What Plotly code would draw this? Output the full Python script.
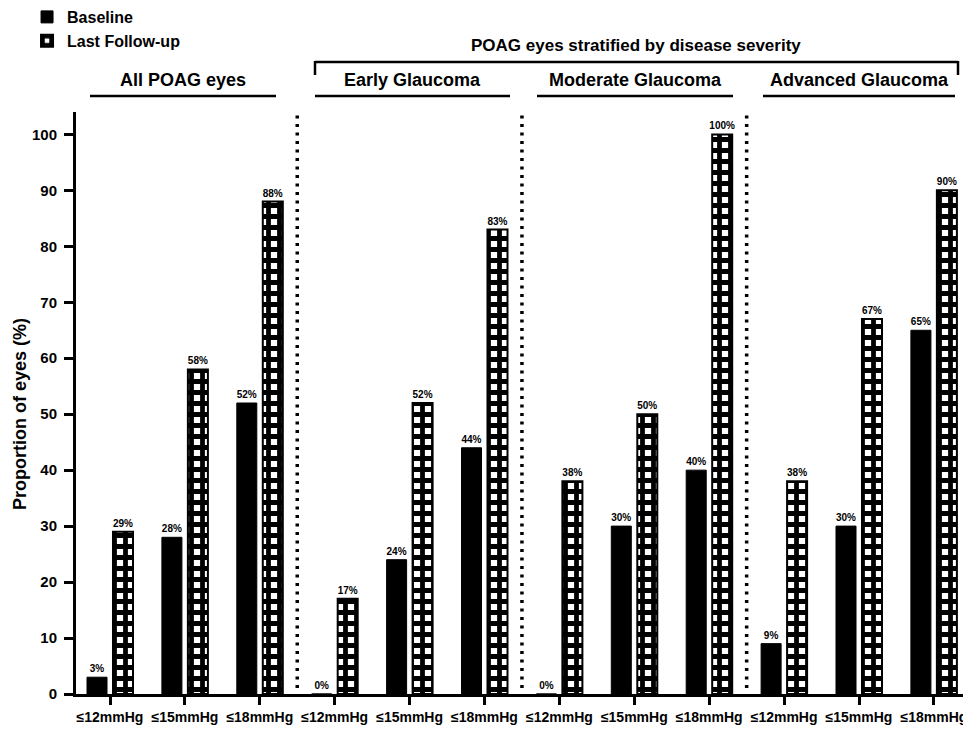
import plotly.graph_objects as go

categories = ["≤12mmHg", "≤15mmHg", "≤18mmHg"] * 4
baseline = [3, 28, 52, 0, 24, 44, 0, 30, 40, 9, 30, 65]
followup = [29, 58, 88, 17, 52, 83, 38, 50, 100, 38, 67, 90]
group_titles = ["All POAG eyes", "Early Glaucoma", "Moderate Glaucoma", "Advanced Glaucoma"]
super_title = "POAG eyes stratified by disease severity"
y_title = "Proportion of eyes (%)"
yticks = list(range(0, 101, 10))

xpos = list(range(len(categories)))
FONT = "Liberation Sans"

PLOT_LEFT, PLOT_W = 76, 887            # screen pixels
PLOT_TOP, PLOT_BOT = 112, 694
def py(ypix):
    return (PLOT_BOT - ypix) / (PLOT_BOT - PLOT_TOP)
def px(xpix):
    return (xpix - PLOT_LEFT) / PLOT_W
X0PIX, XSTEP = 110, 74.9
def dx(xpix):
    return (xpix - X0PIX) / XSTEP

fig = go.Figure()
fig.add_trace(go.Bar(
    x=xpos, y=baseline, name="Baseline",
    marker=dict(color="black", line=dict(color="black", width=1)),
    text=[f"{v}%" for v in baseline], textposition="outside",
    textfont=dict(family=FONT, size=10, color="black", weight="bold"),
    constraintext="none", cliponaxis=False,
))
fig.add_trace(go.Bar(
    x=xpos, y=followup, name="Last Follow-up",
    marker=dict(color="white", line=dict(color="black", width=2),
                pattern=dict(shape="+", fgcolor="black", bgcolor="white",
                             size=11, solidity=0.68, fillmode="replace")),
    text=[f"{v}%" for v in followup], textposition="outside",
    textfont=dict(family=FONT, size=10, color="black", weight="bold"),
    constraintext="none", cliponaxis=False,
))

shapes = []
for b in [2.5, 5.5, 8.5]:
    shapes.append(dict(type="line", xref="x", yref="paper", x0=b, x1=b,
                       y0=py(688), y1=py(110),
                       line=dict(color="black", width=3.5, dash="3px,5.5px")))
underl = [(90, 276), (315, 510), (537, 733), (763, 955)]
centers = []
for (a, b) in underl:
    shapes.append(dict(type="line", xref="x", yref="paper", x0=dx(a), x1=dx(b),
                       y0=py(96), y1=py(96), line=dict(color="black", width=2.5)))
    centers.append(dx((a + b) / 2))
bl, br = dx(315), dx(958)
shapes.append(dict(type="line", xref="x", yref="paper", x0=bl, x1=br, y0=py(62), y1=py(62),
                   line=dict(color="black", width=2.5)))
for xx in (bl, br):
    shapes.append(dict(type="line", xref="x", yref="paper", x0=xx, x1=xx, y0=py(61), y1=py(75),
                       line=dict(color="black", width=2.5)))

annotations = []
for t, c in zip(group_titles, centers):
    annotations.append(dict(text=t, x=c, y=py(80), xref="x", yref="paper", showarrow=False,
                            font=dict(family=FONT, size=18, color="black", weight="bold"),
                            xanchor="center", yanchor="middle"))
annotations.append(dict(text=super_title, x=dx(636), y=py(46), xref="x", yref="paper", showarrow=False,
                        font=dict(family=FONT, size=17, color="black", weight="bold"),
                        xanchor="center", yanchor="middle"))
annotations.append(dict(text=y_title, x=px(20), y=py(414), xref="paper", yref="paper",
                        showarrow=False, textangle=-90,
                        font=dict(family=FONT, size=18, color="black", weight="bold"),
                        xanchor="center", yanchor="middle"))

W, H = 963, 732
fig.update_layout(
    width=W, height=H,
    margin=dict(l=PLOT_LEFT, r=0, t=PLOT_TOP, b=H - PLOT_BOT),
    paper_bgcolor="white", plot_bgcolor="white",
    barmode="group", bargap=0.306, bargroupgap=0.23,
    showlegend=True,
    legend=dict(x=-0.0552, xref="paper", y=1.012, yref="container",
                xanchor="left", yanchor="top",
                font=dict(family=FONT, size=16, color="black", weight="bold"),
                tracegroupgap=0, bgcolor="rgba(0,0,0,0)"),
    shapes=shapes, annotations=annotations,
    font=dict(family=FONT, color="black"),
)
fig.update_xaxes(
    range=[dx(PLOT_LEFT), dx(963)], tickmode="array", tickvals=xpos, ticktext=categories,
    showline=True, linecolor="black", linewidth=3, ticks="outside", ticklen=8, tickwidth=2.5,
    tickcolor="black", showgrid=False, zeroline=False, ticklabeloverflow="allow",
    automargin=False,
    tickfont=dict(family=FONT, size=14, color="black", weight="bold"),
)
fig.update_yaxes(
    range=[0, 104], tickmode="array", tickvals=yticks,
    showline=True, linecolor="black", linewidth=3, ticks="outside", ticklen=9, tickwidth=2.5,
    tickcolor="black", showgrid=False, zeroline=False, automargin=False,
    ticklabelstandoff=4,
    tickfont=dict(family=FONT, size=15, color="black", weight="bold"),
)

fig.write_html("out.html", config={"displayModeBar": False},
               post_script="document.body.style.margin='0';document.body.style.overflow='hidden';")
